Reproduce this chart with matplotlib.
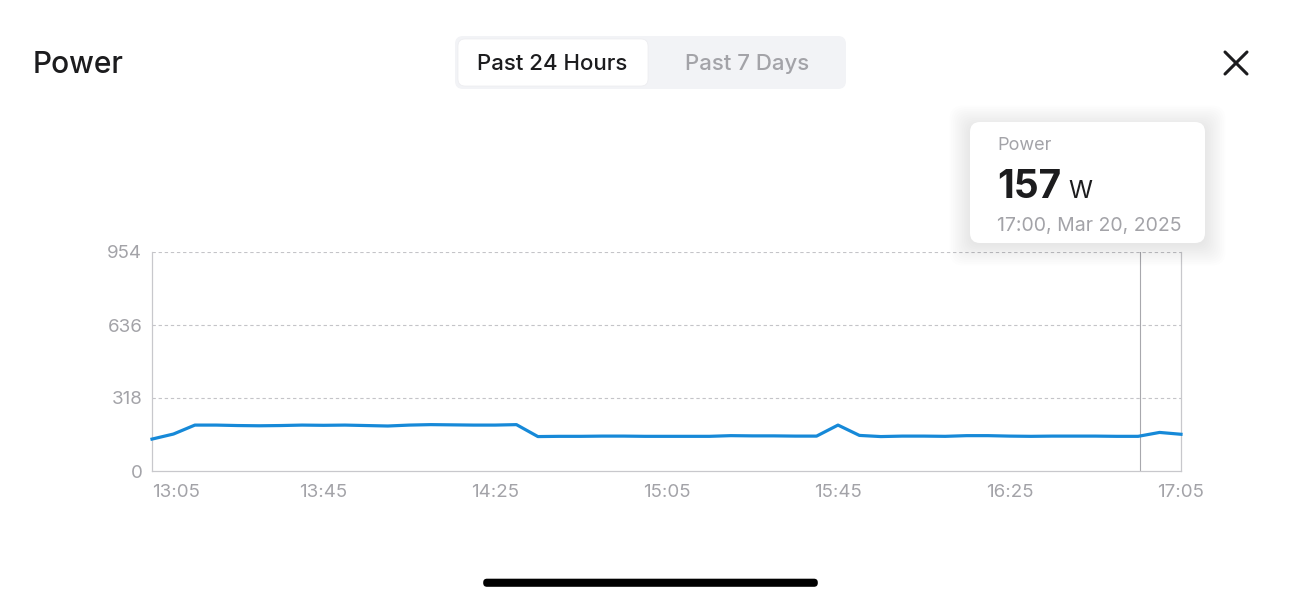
import matplotlib
matplotlib.use("Agg")
import matplotlib.pyplot as plt
from matplotlib.patches import FancyBboxPatch
import numpy as np

plt.rcParams['font.family'] = ['Inter', 'DejaVu Sans']

# ---- data ----
times = ["13:05", "13:10", "13:15", "13:20", "13:25", "13:30", "13:35", "13:40",
         "13:45", "13:50", "13:55", "14:00", "14:05", "14:10", "14:15", "14:20",
         "14:25", "14:30", "14:35", "14:40", "14:45", "14:50", "14:55", "15:00",
         "15:05", "15:10", "15:15", "15:20", "15:25", "15:30", "15:35", "15:40",
         "15:45", "15:50", "15:55", "16:00", "16:05", "16:10", "16:15", "16:20",
         "16:25", "16:30", "16:35", "16:40", "16:45", "16:50", "16:55", "17:00",
         "17:05"]
power = [139, 161, 200, 200, 198, 197, 198, 200,
         199, 200, 198, 196, 200, 202, 201, 200,
         200, 202, 150, 151, 151, 152, 152, 151,
         151, 151, 151, 154, 153, 153, 152, 152,
         200, 155, 150, 152, 152, 151, 154, 154,
         152, 151, 152, 152, 152, 151, 151, 168,
         160]
x_ticks = ["13:05", "13:45", "14:25", "15:05", "15:45", "16:25", "17:05"]
y_ticks = [0, 318, 636, 954]
cursor_time = "16:55"
tooltip_title = "Power"
tooltip_value = "157"
tooltip_unit = "W"
tooltip_date = "17:00, Mar 20, 2025"


def to_min(s):
    h, m = s.split(":")
    return int(h) * 60 + int(m)


xs = np.array([to_min(t) for t in times])
ys = np.array(power)
xt = [to_min(t) for t in x_ticks]

W, H = 1300, 600
fig = plt.figure(figsize=(13, 6), dpi=100)
fig.patch.set_facecolor("white")

# ---- main chart ----
ax = fig.add_axes([152 / W, 1 - 471 / H, (1181 - 152) / W, (471 - 252) / H])
ax.plot(xs, ys, color="#1689d8", lw=2.3, solid_joinstyle="round", zorder=3, clip_on=False)
ax.set_xlim(xt[0], xt[-1])
ax.set_ylim(0, 954)
ax.set_yticks(y_ticks)
ax.set_yticklabels([str(v) for v in y_ticks])
ax.set_xticks(xt)
ax.set_xticklabels(x_ticks)
for lab in ax.get_xticklabels()[:1]:
    lab.set_horizontalalignment("left")
ax.tick_params(axis="both", length=0, colors="#a3a3a8", labelsize=13.5)
ax.tick_params(axis="x", pad=9.5)
ax.tick_params(axis="y", pad=7)
for v in y_ticks[1:]:
    ax.axhline(v, color="#c4c4c8", lw=0.8, ls=(0, (3, 2.5)), zorder=1)
for s in ["left", "bottom", "right"]:
    ax.spines[s].set_color("#c8c8cc")
    ax.spines[s].set_linewidth(0.9)
ax.spines["top"].set_visible(False)
ax.axvline(to_min(cursor_time) + 0.5, color="#a8a8ad", lw=0.8, zorder=2)

# ---- overlay for UI elements ----
ov = fig.add_axes([0, 0, 1, 1], facecolor="none")
ov.set_xlim(0, W)
ov.set_ylim(H, 0)
ov.axis("off")

ov.text(33, 73, "Power", fontsize=21.5, color="#1c1c1e", va="baseline", ha="left",
        fontweight="medium")

# segmented control
ov.add_patch(FancyBboxPatch((455 + 8, 36 + 8), 391 - 16, 53 - 16,
                            boxstyle="round,pad=8", fc="#f2f3f6", ec="none"))
ov.add_patch(FancyBboxPatch((458 + 7, 39 + 7), 190 - 14, 47 - 14,
                            boxstyle="round,pad=7", fc="white", ec="#ececef", lw=0.5))
ov.text(552, 70, "Past 24 Hours", fontsize=16, color="#1c1c1e", ha="center", va="baseline",
        fontweight="medium")
ov.text(747, 70, "Past 7 Days", fontsize=16, color="#a3a3a8", ha="center", va="baseline",
        fontweight="medium")

# close X
ov.plot([1225, 1247], [52, 74], color="#1c1c1e", lw=2.2, solid_capstyle="round")
ov.plot([1225, 1247], [74, 52], color="#1c1c1e", lw=2.2, solid_capstyle="round")

# tooltip soft shadow + box
for i in range(12):
    g = 0.5 + i * 1.4
    ov.add_patch(FancyBboxPatch((970 + 10 - g, 122 + 14 - g), 235 - 20 + 2 * g, 121 - 22 + 2 * g,
                                boxstyle="round,pad=%.1f" % (10 + g * 0.3), fc="black", ec="none",
                                alpha=0.006, zorder=4))
ov.add_patch(FancyBboxPatch((970 + 10, 122 + 10), 235 - 20, 121 - 20,
                            boxstyle="round,pad=10", fc="white", ec="none", zorder=5))
ov.text(997, 150, tooltip_title, fontsize=13, color="#a3a3a8", ha="left", va="baseline", zorder=6)
ov.text(997, 198, tooltip_value, fontsize=28, fontweight="bold", color="#1c1c1e",
        ha="left", va="baseline", zorder=6)
ov.text(1068, 198, tooltip_unit, fontsize=17.5, color="#1c1c1e", ha="left", va="baseline", zorder=6)
ov.text(997, 231, tooltip_date, fontsize=14, color="#a3a3a8", ha="left", va="baseline", zorder=6)

# home indicator
ov.add_patch(FancyBboxPatch((487, 582.5), 327, 0.5,
                            boxstyle="round,pad=3.8", fc="black", ec="none"))

fig.savefig("out.png", dpi=100, facecolor="white")
